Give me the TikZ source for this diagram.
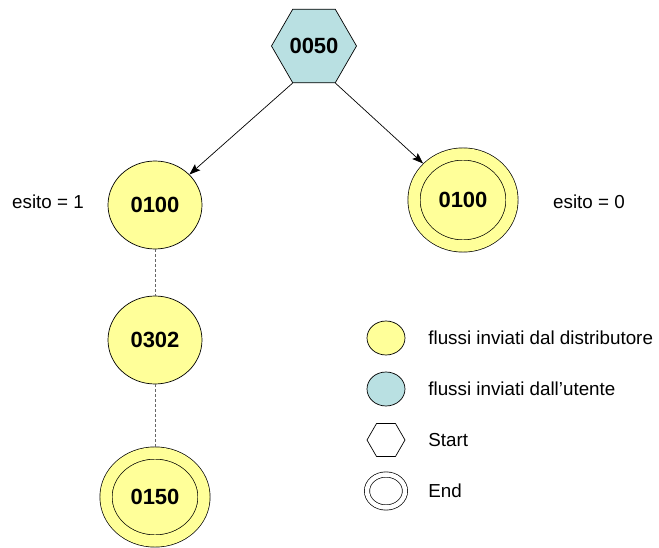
\documentclass[tikz,border=0pt]{standalone}
\usepackage{fontspec}
\setmainfont{Liberation Sans}
\usetikzlibrary{shapes.geometric,arrows.meta}
\definecolor{distrib}{HTML}{FFFF99}
\definecolor{utente}{HTML}{B9E0E2}

\begin{document}
\begin{tikzpicture}[x=1pt,y=-1pt,line width=0.7pt,
    every node/.style={font=\fontsize{18.8}{22}\selectfont},
    stato/.style={ellipse,draw,fill=distrib,inner sep=0pt,minimum width=94pt,
      minimum height=88pt,font=\fontsize{22}{26}\selectfont\bfseries},
    fine/.style={stato,double=distrib,double distance=11.5pt,minimum width=98pt,
      minimum height=92pt,outer sep=6.5pt},
    inizio/.style={regular polygon,regular polygon sides=6,draw,fill=utente,
      inner sep=0pt,minimum size=85pt,font=\fontsize{22}{26}\selectfont\bfseries},
    voce/.style={anchor=west,inner sep=0pt},
    freccia/.style={-{Stealth[length=11pt,width=8pt,inset=2pt]}},
    tratto/.style={draw=black!60,line width=0.9pt,dash pattern=on 3pt off 2pt}]
    \useasboundingbox (0,0) rectangle (659,548);

    \node[inizio] (n0050) at (314,46) {0050};
    \node[stato] (n0100a) at (155,205) {0100};
    \node[fine] (n0100b) at (463,200) {0100};
    \node[stato] (n0302) at (155,340) {0302};
    \node[fine,minimum height=88pt] (n0150) at (155,497) {0150};

    \node[inner sep=0pt] (esito1) at (48,202) {esito = 1};
    \node[inner sep=0pt] (esito0) at (589,202) {esito = 0};

    \draw[freccia] (n0050.240) -- (n0100a);
    \draw[freccia] (n0050.300) -- (n0100b);
    \draw[tratto] (n0100a) -- (n0302);
    \draw[tratto] (n0302) -- (n0150);

    % legenda
    \node[ellipse,draw,fill=distrib,minimum width=38pt,minimum height=34pt] (legD) at (386,338) {};
    \node[ellipse,draw,fill=utente,minimum width=38pt,minimum height=34pt] (legU) at (386,389) {};
    \node[regular polygon,regular polygon sides=6,draw,inner sep=0pt,minimum size=38pt] (legS) at (386,440) {};
    \node[ellipse,draw,double,double distance=4.5pt,minimum width=38pt,minimum height=33pt] (legE) at (386,491) {};
    \node[voce] (txtD) at (428,338) {flussi inviati dal distributore};
    \node[voce] (txtU) at (428,389) {flussi inviati dall’utente};
    \node[voce] (txtS) at (428,440) {Start};
    \node[voce] (txtE) at (428,491) {End};
  \end{tikzpicture}
\end{document}
